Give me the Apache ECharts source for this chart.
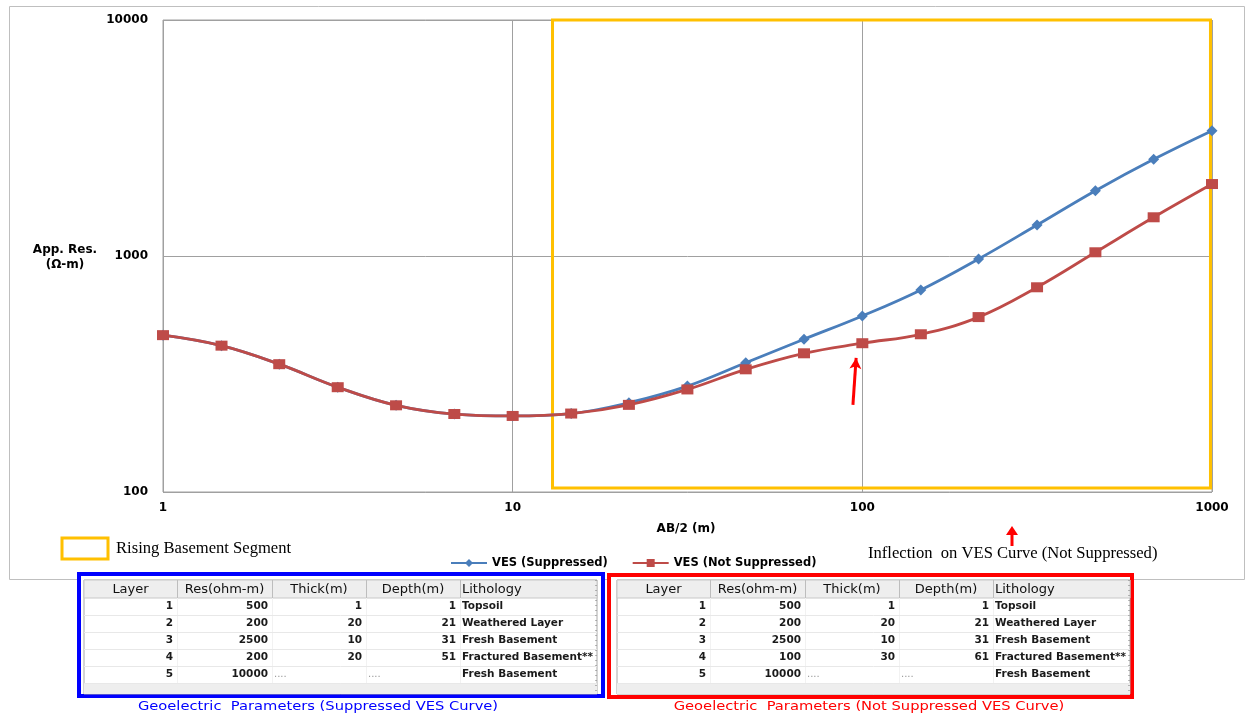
<!DOCTYPE html>
<html><head><meta charset="utf-8">
<script src="https://cdn.jsdelivr.net/npm/echarts@6/dist/echarts.min.js"></script>
<style>html,body{margin:0;padding:0;background:#fff}#c{width:1247px;height:717px}</style>
</head><body><div id="c"></div>
<script>
// ---- data ----
const abHalf = [1, 1.47, 2.15, 3.16, 4.64, 6.81, 10, 14.7, 21.5, 31.6, 46.4, 68.1, 100, 147, 215, 316, 464, 681, 1000];
const resSuppressed = [462, 417, 348, 278, 233, 214, 210, 215, 239, 281, 353, 444, 557, 718, 971, 1353, 1891, 2569, 3395];
const resNotSuppressed = [462, 417, 348, 278, 233, 214, 210, 215, 234, 272, 331, 387, 427, 466, 551, 737, 1037, 1459, 2018];
const seriesNames = ['VES (Suppressed)', 'VES (Not Suppressed)'];
const xTicks = [1, 10, 100, 1000];
const yTicks = [100, 1000, 10000];
const xTitle = 'AB/2 (m)';
const yTitle = ['App. Res.', '(Ω-m)'];
const risingSegmentX = [13, 990];
const risingSegmentY = [104, 10000];
const risingLabel = 'Rising Basement Segment';
const inflectionArrowX = [94, 96];
const inflectionArrowY = [234, 370];
const inflectionLabel = 'Inflection  on VES Curve (Not Suppressed)';
const tableHeader = ['Layer', 'Res(ohm-m)', 'Thick(m)', 'Depth(m)', 'Lithology'];
const layersSuppressed = [
  [1, 500, 1, 1, 'Topsoil'],
  [2, 200, 20, 21, 'Weathered Layer'],
  [3, 2500, 10, 31, 'Fresh Basement'],
  [4, 200, 20, 51, 'Fractured Basement**'],
  [5, 10000, '....', '....', 'Fresh Basement']
];
const layersNotSuppressed = [
  [1, 500, 1, 1, 'Topsoil'],
  [2, 200, 20, 21, 'Weathered Layer'],
  [3, 2500, 10, 31, 'Fresh Basement'],
  [4, 100, 30, 61, 'Fractured Basement**'],
  [5, 10000, '....', '....', 'Fresh Basement']
];
const captionSuppressed = 'Geoelectric  Parameters (Suppressed VES Curve)';
const captionNotSuppressed = 'Geoelectric  Parameters (Not Suppressed VES Curve)';

// ---- styles ----
const SANS = "'DejaVu Sans', Verdana, sans-serif";
const SERIF = "'Liberation Serif', 'Times New Roman', serif";
const BLUE = '#4A7EBB', RED = '#BE4B48';

function buildTable(x0, frame, rows, caption, capColor, capX) {
  const colW = [93, 95, 94, 94, 137];
  const cols = [x0];
  colW.forEach(w => cols.push(cols[cols.length - 1] + w));
  const tw = cols[5] - x0;
  const top = 580, headH = 18, rowH = 17;
  const els = [];
  els.push({ type: 'rect', shape: frame, style: { fill: '#fff', stroke: capColor, lineWidth: 4 }, z: 10 });
  els.push({ type: 'rect', shape: { x: x0, y: top, width: tw, height: 114 }, style: { fill: '#fff', stroke: '#A8A8A8', lineWidth: 1 }, z: 11 });
  els.push({ type: 'rect', shape: { x: x0, y: top, width: tw, height: headH }, style: { fill: '#EEEEEE', stroke: '#C8C8C8', lineWidth: 1 }, z: 11 });
  const bottomRowTop = top + headH + rowH * rows.length;
  els.push({ type: 'rect', shape: { x: x0, y: bottomRowTop, width: tw, height: 694 - bottomRowTop }, style: { fill: '#EEEEEE' }, z: 11 });
  for (let i = 1; i < 5; i++) {
    els.push({ type: 'line', shape: { x1: cols[i] + 0.5, y1: top, x2: cols[i] + 0.5, y2: top + headH }, style: { stroke: '#BDBDBD', lineWidth: 1 }, z: 12 });
    els.push({ type: 'line', shape: { x1: cols[i] + 0.5, y1: top + headH, x2: cols[i] + 0.5, y2: bottomRowTop }, style: { stroke: '#F2F2F2', lineWidth: 1 }, z: 12 });
  }
  for (let r = 1; r <= rows.length; r++) {
    const y = top + headH + rowH * r + 0.5;
    els.push({ type: 'line', shape: { x1: x0, y1: y, x2: x0 + tw, y2: y }, style: { stroke: '#E8E8E8', lineWidth: 1 }, z: 12 });
  }
  els.push({ type: 'line', shape: { x1: x0 + tw - 1, y1: top, x2: x0 + tw - 1, y2: 694 }, style: { stroke: '#777', lineWidth: 1, lineDash: [1, 4] }, z: 12 });
  tableHeader.forEach((h, i) => {
    const last = i === 4;
    els.push({ type: 'text', x: last ? cols[i] + 2 : (cols[i] + cols[i + 1]) / 2, y: top + headH / 2 + 1, z: 13,
      style: { text: h, font: "13px " + SANS, fill: '#111', textAlign: last ? 'left' : 'center', textVerticalAlign: 'middle' } });
  });
  rows.forEach((row, r) => {
    const yc = top + headH + rowH * r + rowH / 2;
    row.forEach((v, i) => {
      const isDots = v === '....';
      const left = i === 4 || isDots;
      els.push({ type: 'text', x: left ? cols[i] + 2 : cols[i + 1] - 4, y: yc, z: 13,
        style: { text: String(v), font: (isDots ? "normal 10px " : "bold 10.5px ") + SANS, fill: isDots ? '#999' : '#1a1a1a',
          textAlign: left ? 'left' : 'right', textVerticalAlign: 'middle' } });
    });
  });
  els.push({ type: 'text', x: capX, y: 707, z: 13, scaleX: 1.13,
    style: { text: caption, font: "13px " + SANS, fill: capColor, textAlign: 'center', textVerticalAlign: 'middle' } });
  return els;
}

const chart = echarts.init(document.getElementById('c'));
const graphics = [
  { type: 'rect', shape: { x: 9.5, y: 6.5, width: 1235, height: 573 }, style: { fill: 'none', stroke: '#BFBFBF', lineWidth: 1 }, z: 0 },
  { type: 'text', x: 65, y: 250, style: { text: yTitle[0], font: "bold 12px " + SANS, fill: '#000', textAlign: 'center', textVerticalAlign: 'middle' } },
  { type: 'text', x: 65, y: 265, style: { text: yTitle[1], font: "bold 12px " + SANS, fill: '#000', textAlign: 'center', textVerticalAlign: 'middle' } },
  { type: 'text', x: 686, y: 529, style: { text: xTitle, font: "bold 12px " + SANS, fill: '#000', textAlign: 'center', textVerticalAlign: 'middle' } },
  { type: 'rect', shape: { x: 62, y: 538, width: 46, height: 21 }, style: { fill: 'none', stroke: '#FFC000', lineWidth: 3 } },
  { type: 'text', x: 116, y: 549, style: { text: risingLabel, font: "16.6px " + SERIF, fill: '#000', textAlign: 'left', textVerticalAlign: 'middle' } },
  { type: 'text', x: 868, y: 554, style: { text: inflectionLabel, font: "16.6px " + SERIF, fill: '#000', textAlign: 'left', textVerticalAlign: 'middle' } },
  { type: 'line', shape: { x1: 1012, y1: 546, x2: 1012, y2: 534 }, style: { stroke: '#FF0000', lineWidth: 3 } },
  { type: 'polygon', shape: { points: [[1006, 535], [1018, 535], [1012, 526]] }, style: { fill: '#FF0000' } }
].concat(
  buildTable(84, { x: 79, y: 574, width: 524, height: 122 }, layersSuppressed, captionSuppressed, '#0000FF', 318),
  buildTable(617, { x: 609, y: 575, width: 523, height: 122 }, layersNotSuppressed, captionNotSuppressed, '#FF0000', 869)
);

chart.setOption({
  animation: false,
  backgroundColor: '#fff',
  grid: { left: 163, right: 35, top: 20, bottom: 225, show: true, borderColor: '#A0A0A0', borderWidth: 1, containLabel: false },
  legend: {
    data: seriesNames, left: 445, top: 552, itemWidth: 36, itemHeight: 10, itemGap: 24,
    textStyle: { fontFamily: SANS, fontWeight: 'bold', fontSize: 11.5, color: '#000' }
  },
  xAxis: {
    type: 'log', logBase: 10, min: xTicks[0], max: xTicks[xTicks.length - 1],
    axisLine: { show: false }, axisTick: { show: false },
    splitLine: { show: true, lineStyle: { color: '#A0A0A0', width: 1 } },
    minorSplitLine: { show: false },
    axisLabel: { margin: 10, fontFamily: SANS, fontWeight: 'bold', fontSize: 12, color: '#000',
      formatter: v => (xTicks.includes(Math.round(v)) ? String(Math.round(v)) : '') }
  },
  yAxis: {
    type: 'log', logBase: 10, min: yTicks[0], max: yTicks[yTicks.length - 1],
    axisLine: { show: false }, axisTick: { show: false },
    splitLine: { show: true, lineStyle: { color: '#A0A0A0', width: 1 } },
    axisLabel: { margin: 15, fontFamily: SANS, fontWeight: 'bold', fontSize: 12, color: '#000',
      formatter: v => (yTicks.includes(Math.round(v)) ? String(Math.round(v)) : '') }
  },
  graphic: graphics,
  series: [
    {
      name: seriesNames[0], type: 'line', smooth: 0.4, z: 3,
      data: abHalf.map((x, i) => [x, resSuppressed[i]]),
      symbol: 'diamond', symbolSize: [11, 11],
      lineStyle: { color: BLUE, width: 2.8 }, itemStyle: { color: BLUE },
      markArea: {
        silent: true,
        itemStyle: { color: 'rgba(0,0,0,0)', borderColor: '#FFC000', borderWidth: 3 },
        data: [[{ coord: [risingSegmentX[0], risingSegmentY[0]] }, { coord: [risingSegmentX[1], risingSegmentY[1]] }]]
      }
    },
    {
      name: seriesNames[1], type: 'line', smooth: 0.4, z: 4,
      data: abHalf.map((x, i) => [x, resNotSuppressed[i]]),
      symbol: 'rect', symbolSize: [12, 10],
      lineStyle: { color: RED, width: 2.8 }, itemStyle: { color: RED },
      markLine: {
        silent: true, symbol: ['none', 'arrow'], symbolSize: [9, 11],
        label: { show: false },
        lineStyle: { color: '#FF0000', width: 3, type: 'solid' },
        data: [[{ coord: [inflectionArrowX[0], inflectionArrowY[0]] }, { coord: [inflectionArrowX[1], inflectionArrowY[1]] }]]
      }
    }
  ]
});
</script></body></html>
